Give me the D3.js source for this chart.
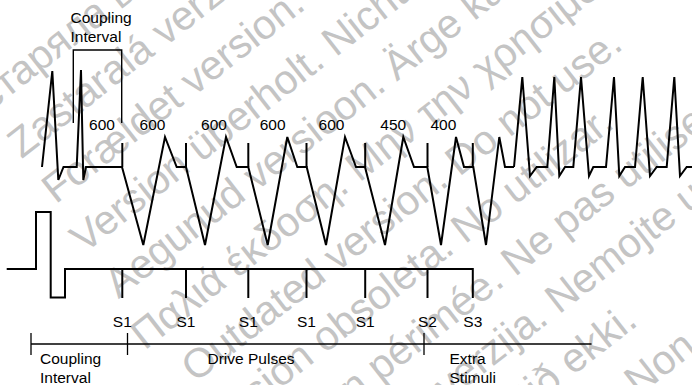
<!DOCTYPE html>
<html><head><meta charset="utf-8">
<script src="https://cdn.jsdelivr.net/npm/d3@7"></script>
<style>html,body{margin:0;padding:0;background:#fff;overflow:hidden}svg{display:block}</style>
</head><body><svg id="c" width="692" height="385"></svg>
<script>
// ---------- data (x = time position, y = amplitude) ----------
const intrinsicTrace = [[42,0],[52.3,96],[58.3,-13],[63.5,0],[76.7,0],[81,97],[83.3,-13],[86,0],[122,0]];
const pacedTrace = [[122,0],[143.3,-78],[165,30],[176.7,0],[186,0],[205,-78],[226,30],[236.7,0],[248.3,0],
  [267.7,-78],[287.3,30],[297.3,0],[306.7,0],[326,-78],[345,30],[356,0],[365,0],[385,-78],[403.3,30],[414,0],
  [427.3,0],[441,-78],[456,30],[464,0],[473.3,0],[486,-78],[499.3,30],[505,0],[514,0]];
const vtTrace = [[514,0],[522.3,90],[530,-9],[536.7,0],[547.3,0],[554.3,90],[559.3,-9],[565,0],[573.3,0],
  [581,90],[589,-9],[593.3,0],[606,0],[614,90],[619.3,-9],[625,0],[635,0],[642.7,90],[650,-9],[656.7,0],
  [666.7,0],[674.3,90],[680,-9],[686.7,0],[692,0]];
const stimTimes = [122.3, 186, 248.3, 306.5, 365.2, 427.5, 472.8];
const stimNames = ["S1","S1","S1","S1","S1","S2","S3"];
const spikeAmp = 24;
const stimTrace = [[6.7,0],[36,0],[36,57],[50.7,57],[50.7,-28.5],[65,-28.5],[65,0],[472.8,0]];
const stimDepth = -28;
const intervalLabels = ["600","600","600","600","600","450","400"];
const intervalLabelAt = [102, 152.5, 214, 272.7, 331.5, 393.3, 443.4];
const couplingBracket = [73.3, 121.7];
const phaseBounds = [31, 127.5, 424, 591.5];
const phaseNames = [["Coupling","Interval"],["Drive Pulses"],["Extra","Stimuli"]];
const phaseLabelAt = [40, 207.5, 449.5];
const watermarkLines = [
  "Остаряла версия. Да не се използва.",
  "Zastaralá verze. Nepoužívat.",
  "Forældet version. Må ikke anvendes.",
  "Version überholt. Nicht verwenden.",
  "Aegunud versioon. Ärge kasutage.",
  "Παλιά έκδοση. Μην την χρησιμοποιείτε.",
  "Outdated version. Do not use.",
  "Versión obsoleta. No utilizar.",
  "Version périmée. Ne pas utiliser.",
  "Zastarjela verzija. Nemojte upotrebljavati.",
  "Úrelt útgáfa. Notið ekki.",
  "Versione obsoleta. Non utilizzare."
];
const watermarkShift = [-108,-81,-82,-90,-91,-102,-82,-110,-84,-86,-122,-90];

// ---------- drawing ----------
const svg = d3.select("#c");
const FONT = "'Liberation Sans', Arial, Helvetica, sans-serif";
const x = d3.scaleLinear().domain([0,692]).range([0,692]);
const yEcg = d3.scaleLinear().domain([-100,100]).range([267,67]);
const yStim = d3.scaleLinear().domain([-50,50]).range([319,219]);

// watermark
const wm = svg.append("g").attr("transform","rotate(-38)")
  .attr("font-family",FONT).attr("font-size",41).attr("fill","#c4c4c4");
watermarkLines.forEach((t,i)=>{
  wm.append("text").attr("x",watermarkShift[i]).attr("y",82+56.7*i).text(t);
});

const lineE = d3.line().x(d=>x(d[0])).y(d=>yEcg(d[1]));
const lineS = d3.line().x(d=>x(d[0])).y(d=>yStim(d[1]));
const stroke = sel => sel.attr("fill","none").attr("stroke","#000").attr("stroke-linejoin","miter");

[intrinsicTrace, pacedTrace, vtTrace].forEach(tr=>{
  svg.append("path").attr("d",lineE(tr)).call(stroke).attr("stroke-width",2);
});
// pacing spikes on ECG
svg.selectAll(".spk").data(stimTimes).enter().append("line")
  .attr("x1",d=>x(d)).attr("x2",d=>x(d)).attr("y1",yEcg(0)).attr("y2",yEcg(spikeAmp))
  .call(stroke).attr("stroke-width",2);

// stimulus trace
svg.append("path").attr("d",lineS(stimTrace)).call(stroke).attr("stroke-width",2);
svg.selectAll(".stk").data(stimTimes).enter().append("line")
  .attr("x1",d=>x(d)).attr("x2",d=>x(d)).attr("y1",yStim(0)).attr("y2",yStim(stimDepth))
  .call(stroke).attr("stroke-width",2).attr("stroke-linecap","square");

// coupling bracket
svg.append("path").attr("d",d3.line()([[x(couplingBracket[0]),123],[x(couplingBracket[0]),50],[x(couplingBracket[1]),50],[x(couplingBracket[1]),123]]))
  .call(stroke).attr("stroke-width",1.4);

const txt = svg.append("g").attr("font-family",FONT).attr("font-size",15.5).attr("fill","#000");
txt.append("text").attr("x",70.5).attr("y",23.3).text("Coupling");
txt.append("text").attr("x",70.5).attr("y",42.3).text("Interval");
intervalLabels.forEach((t,i)=>{
  txt.append("text").attr("x",x(intervalLabelAt[i])).attr("y",129.5).attr("text-anchor","middle").text(t);
});
stimNames.forEach((t,i)=>{
  txt.append("text").attr("x",x(stimTimes[i])).attr("y",327).attr("text-anchor","middle").text(t);
});

// phase timeline
svg.append("line").attr("x1",x(phaseBounds[0])).attr("x2",x(phaseBounds[3])).attr("y1",344).attr("y2",344)
  .call(stroke).attr("stroke-width",1.3);
svg.selectAll(".ptk").data(phaseBounds.slice(0,3)).enter().append("line")
  .attr("x1",d=>x(d)).attr("x2",d=>x(d)).attr("y1",333).attr("y2",355).call(stroke).attr("stroke-width",1.3);
phaseNames.forEach((lines,i)=>{
  lines.forEach((t,j)=>{
    txt.append("text").attr("x",x(phaseLabelAt[i])).attr("y",364.3+18.4*j).text(t);
  });
});
</script></body></html>
